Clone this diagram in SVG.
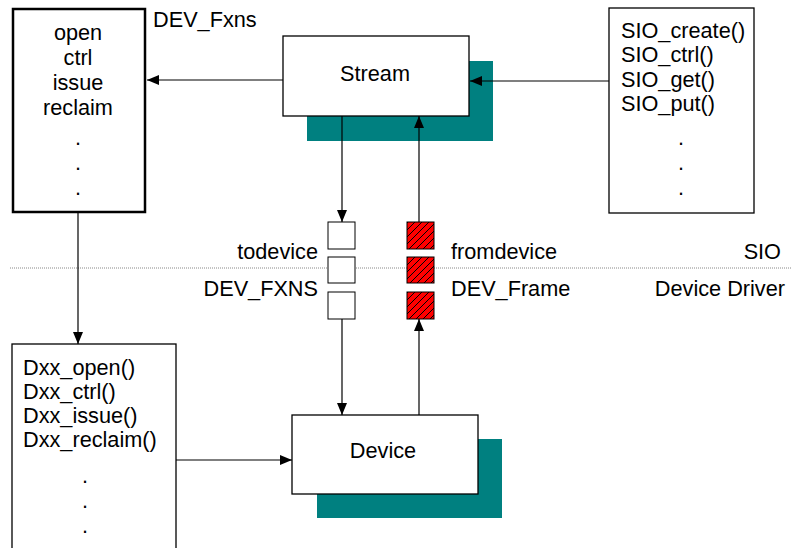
<svg xmlns="http://www.w3.org/2000/svg" width="792" height="548" viewBox="0 0 792 548">
<defs>
<style>
text{font-family:"Liberation Sans",Arial,sans-serif;font-size:21.7px;fill:#000}
.box{fill:#fff;stroke:#000;stroke-width:1.3}
.thick{fill:#fff;stroke:#000;stroke-width:2.5}
.shadow{fill:#008080;stroke:none}
.conn{stroke:#000;stroke-width:1.2;fill:none}
.c{text-anchor:middle}
.e{text-anchor:end}
.q{fill:#fff;stroke:#000;stroke-width:1}
.h{fill:url(#hatch);stroke:#000;stroke-width:1}
</style>
<marker id="arr" markerUnits="userSpaceOnUse" markerWidth="12" markerHeight="10" viewBox="0 0 12 10" refX="12" refY="5" orient="auto">
<path d="M0,0 L12,5 L0,10 Z" fill="#000"/>
</marker>
<pattern id="hatch" patternUnits="userSpaceOnUse" width="7" height="7">
<rect width="7" height="7" fill="#ff0000"/>
<path d="M0,7 L7,0 M-1,1 L1,-1 M6,8 L8,6" stroke="#000" stroke-width="1"/>
</pattern>
</defs>
<line x1="10" y1="268" x2="792" y2="268" stroke="#888" stroke-width="1" stroke-dasharray="1,1"/>
<g id="dev_fxns">
<rect class="thick" x="13" y="9" width="132" height="203"/>
<text class="c" x="78" y="40">open</text>
<text class="c" x="78" y="65">ctrl</text>
<text class="c" x="78" y="90">issue</text>
<text class="c" x="78" y="115">reclaim</text>
<text class="c" x="78" y="145">.</text>
<text class="c" x="78" y="170">.</text>
<text class="c" x="78" y="195">.</text>
<text x="153" y="27">DEV_Fxns</text>
</g>
<g id="stream">
<rect class="shadow" x="307" y="61" width="186" height="80"/>
<rect class="box" x="283" y="36" width="186" height="80"/>
<text class="c" x="375" y="81">Stream</text>
</g>
<g id="sio">
<rect class="box" x="609" y="8" width="145" height="205"/>
<text x="621" y="38">SIO_create()</text>
<text x="621" y="62">SIO_ctrl()</text>
<text x="621" y="87">SIO_get()</text>
<text x="621" y="111">SIO_put()</text>
<text class="c" x="681" y="145">.</text>
<text class="c" x="681" y="170">.</text>
<text class="c" x="681" y="195">.</text>
</g>
<g id="todevice">
<rect class="q" x="328" y="222" width="27" height="27"/>
<rect class="q" x="328" y="257" width="27" height="26"/>
<rect class="q" x="328" y="292" width="27" height="27"/>
<text class="e" x="318" y="259">todevice</text>
<text class="e" x="318" y="296">DEV_FXNS</text>
</g>
<g id="fromdevice">
<rect class="h" x="407" y="222" width="27" height="27"/>
<rect class="h" x="407" y="257" width="27" height="26"/>
<rect class="h" x="407" y="292" width="27" height="27"/>
<text x="451" y="259">fromdevice</text>
<text x="451" y="296">DEV_Frame</text>
</g>
<g id="layers">
<text class="e" x="781" y="259">SIO</text>
<text class="e" x="785" y="296">Device Driver</text>
</g>
<g id="dxx">
<rect class="box" x="12" y="344" width="164" height="210"/>
<text x="23" y="375">Dxx_open()</text>
<text x="23" y="399">Dxx_ctrl()</text>
<text x="23" y="423">Dxx_issue()</text>
<text x="23" y="447">Dxx_reclaim()</text>
<text class="c" x="85" y="483">.</text>
<text class="c" x="85" y="508">.</text>
<text class="c" x="85" y="533">.</text>
</g>
<g id="device">
<rect class="shadow" x="317" y="439" width="185" height="79"/>
<rect class="box" x="292" y="415" width="186" height="79"/>
<text class="c" x="383" y="458">Device</text>
</g>
<g id="connectors">
<line class="conn" x1="283" y1="80" x2="147" y2="80" marker-end="url(#arr)"/>
<line class="conn" x1="609" y1="81" x2="470" y2="81" marker-end="url(#arr)"/>
<line class="conn" x1="342" y1="116" x2="342" y2="222" marker-end="url(#arr)"/>
<line class="conn" x1="419" y1="222" x2="419" y2="116" marker-end="url(#arr)"/>
<line class="conn" x1="342" y1="319" x2="342" y2="415" marker-end="url(#arr)"/>
<line class="conn" x1="419" y1="415" x2="419" y2="319" marker-end="url(#arr)"/>
<line class="conn" x1="78" y1="213" x2="78" y2="344" marker-end="url(#arr)"/>
<line class="conn" x1="176" y1="460" x2="292" y2="460" marker-end="url(#arr)"/>
</g>
</svg>
